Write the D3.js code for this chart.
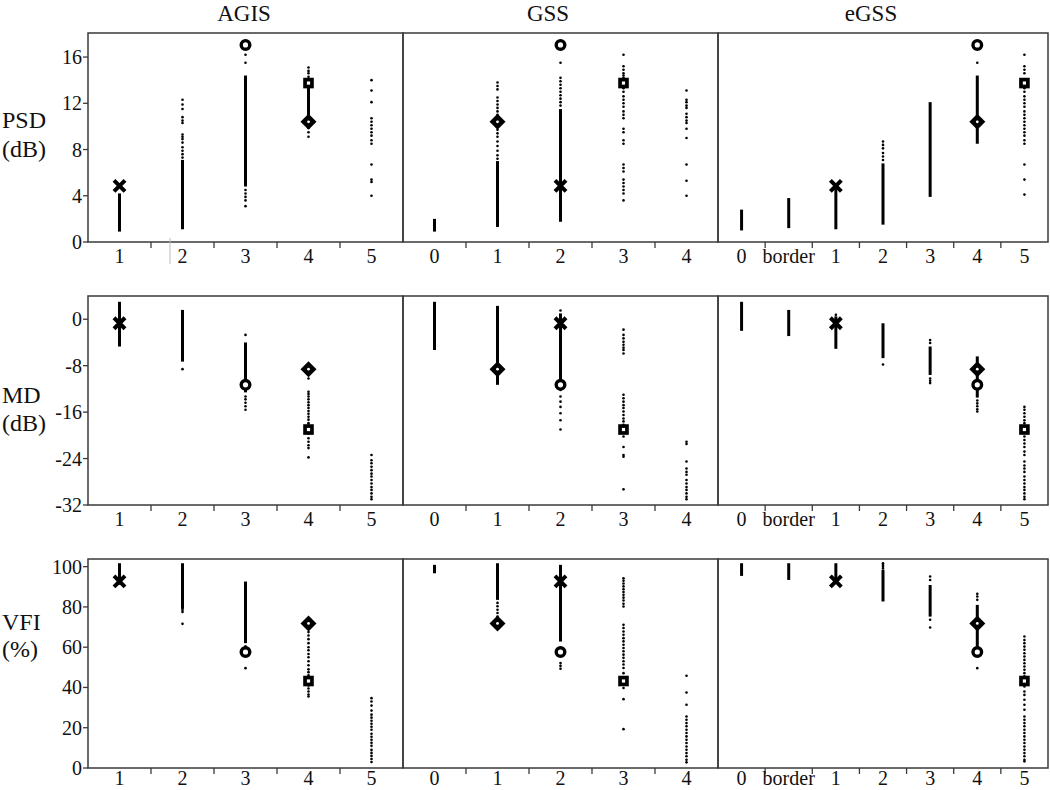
<!DOCTYPE html>
<html>
<head>
<meta charset="utf-8">
<script src="https://cdn.jsdelivr.net/npm/d3@7"></script>
<style>
  html, body { margin: 0; padding: 0; background: #fff; }
  svg { display: block; }
  text { font-family: "Liberation Serif", "Times New Roman", serif; fill: #111; }
</style>
</head>
<body>
<svg id="chart" width="1050" height="790"></svg>
<script>
// ---------------- DATA ----------------
const panelNames = ["AGIS", "GSS", "eGSS"];
const rowNames = ["PSD", "MD", "VFI"];
const rowUnits = ["(dB)", "(dB)", "(%)"];

const agisCats = ["1", "2", "3", "4", "5"];
const gssCats = ["0", "1", "2", "3", "4"];
const egssCats = ["0", "border", "1", "2", "3", "4", "5"];

const psdTicks = [0, 4, 8, 12, 16];
const mdTicks = [-32, -24, -16, -8, 0];
const vfiTicks = [0, 20, 40, 60, 80, 100];

// dense (continuous-looking) runs of points: [category, low, high]
const psdAgisSegs = [["1", 0.9, 4.2], ["2", 1.1, 7.1], ["3", 4.8, 14.4], ["4", 9.8, 13.6]];
const psdGssSegs = [["0", 0.9, 2.0], ["1", 1.3, 7.0], ["2", 1.75, 11.5]];
const psdEgssSegs = [["0", 1.0, 2.8], ["border", 1.2, 3.8], ["1", 1.1, 4.6], ["2", 1.5, 6.8], ["3", 3.9, 12.1], ["4", 8.5, 14.4]];
const mdAgisSegs = [["1", -4.7, 3.0], ["2", -7.3, 1.6], ["3", -12.6, -4.0]];
const mdGssSegs = [["0", -5.3, 3.0], ["1", -11.3, 2.3], ["2", -11.3, 1.0]];
const mdEgssSegs = [["0", -2.0, 3.0], ["border", -2.9, 1.6], ["1", -5.1, 0.5], ["2", -6.7, -0.7], ["3", -9.6, -4.7], ["4", -13.5, -6.4]];
const vfiAgisSegs = [["1", 91, 101.7], ["2", 79, 101.7], ["3", 62, 92.6]];
const vfiGssSegs = [["0", 96.7, 100.9], ["1", 83.5, 101.7], ["2", 62.8, 100.9]];
const vfiEgssSegs = [["0", 95.4, 101.7], ["border", 93.4, 101.7], ["1", 93, 101.7], ["2", 82.7, 98.4], ["3", 75.2, 90.9], ["4", 57.5, 81]];

// individual (sparse) points: [category, [values]]
const psdAgisDots = [
  ["2", [12.3, 11.9, 11.5, 10.8, 10.5, 10.3, 9.3, 9.1, 8.9, 8.6, 8.2, 7.9, 7.6, 7.3]],
  ["3", [16.2, 15.5, 4.5, 4.2, 3.9, 3.6, 3.1]],
  ["4", [15.1, 14.8, 14.6, 14.3, 14.1, 9.5, 9.1]],
  ["5", [14.0, 13.1, 12.1, 10.7, 10.4, 10.1, 9.8, 9.5, 9.2, 8.8, 8.5, 6.7, 5.4, 5.2, 4.0]]
];
const psdGssDots = [
  ["1", [13.8, 13.5, 13.2, 12.5, 12.2, 11.9, 11.6, 11.3, 11.0, 10.7, 10.0, 9.7, 9.4, 9.1, 8.7, 8.3, 7.9, 7.5, 7.2]],
  ["2", [15.5, 14.2, 13.9, 13.6, 13.3, 13.0, 12.7, 12.4, 12.1, 11.8]],
  ["3", [16.2, 15.2, 14.9, 14.6, 14.4, 14.2, 13.3, 13.0, 12.6, 12.3, 12.0, 11.7, 11.3, 11.0, 10.7, 9.8, 9.5, 8.8, 8.5, 6.7, 6.4, 6.1, 5.4, 5.1, 4.8, 4.5, 4.2, 3.6]],
  ["4", [13.1, 12.3, 12.1, 11.8, 11.6, 11.1, 10.8, 10.5, 10.3, 9.8, 9.0, 6.7, 5.3, 4.0]]
];
const psdEgssDots = [
  ["2", [8.7, 8.4, 8.1, 7.7, 7.4, 7.1]],
  ["4", [15.5]],
  ["5", [16.2, 15.2, 14.9, 14.6, 13.3, 13.0, 12.6, 12.3, 12.0, 11.7, 11.3, 11.0, 10.7, 10.4, 10.1, 9.8, 9.5, 9.2, 8.8, 8.5, 6.7, 5.4, 4.1]]
];
const mdAgisDots = [
  ["2", [-8.6]],
  ["3", [-2.7, -13.3, -13.8, -14.4, -15.0, -15.6]],
  ["4", [-9.3, -10.2, -12.5, -12.9, -13.3, -13.8, -14.3, -14.8, -15.3, -15.8, -16.3, -16.8, -17.3, -17.9, -18.3, -19.7, -20.5, -21.1, -21.7, -22.2, -23.8]],
  ["5", [-23.4, -24.3, -24.8, -25.4, -26.0, -26.6, -27.1, -27.7, -28.3, -28.9, -29.4, -30.0, -30.6, -31.0]]
];
const mdGssDots = [
  ["2", [1.5, -12.2, -13.3, -14.2, -15.1, -16.2, -17.4, -19.0]],
  ["3", [-1.8, -2.7, -3.3, -3.9, -4.4, -4.9, -5.3, -5.9, -13.0, -13.6, -14.2, -14.8, -15.3, -15.9, -16.5, -17.1, -17.6, -18.2, -20.2, -22.0, -23.4, -23.7, -29.3]],
  ["4", [-21.1, -21.5, -24.5, -25.7, -26.3, -26.8, -27.7, -28.3, -28.9, -29.4, -30.0, -30.6, -31.0]]
];
const mdEgssDots = [
  ["1", [0.75]],
  ["2", [-7.8]],
  ["3", [-3.6, -4.1, -10.2, -10.6, -11.0]],
  ["4", [-14.0, -14.5, -15.0, -15.5, -15.9]],
  ["5", [-15.1, -15.6, -16.2, -16.8, -17.4, -17.9, -18.4, -19.6, -20.2, -20.8, -21.4, -22.0, -22.8, -23.4, -24.5, -25.2, -25.7, -26.3, -27.1, -27.7, -28.3, -28.9, -29.4, -30.0, -30.6, -31.0]]
];
const vfiAgisDots = [
  ["2", [78.5, 77.5, 71.6]],
  ["3", [60.5, 49.6]],
  ["4", [69.4, 67.5, 65.8, 64, 62, 60, 58.5, 56.6, 55, 53, 51, 49, 47.6, 46, 41, 39.5, 38, 36.5, 35.5]],
  ["5", [34.7, 33, 31, 28.5, 26.5, 25, 23.5, 22, 20.5, 19, 17, 15.5, 14, 12.5, 11, 9, 7.5, 6, 4.5, 3]]
];
const vfiGssDots = [
  ["1", [82, 80.3, 78.6, 77, 75.2]],
  ["2", [52.1, 50.7, 49.3]],
  ["3", [94.2, 93, 91.6, 90.2, 88.8, 87.4, 86, 84.6, 83.2, 81.6, 80.2, 71.1, 69.5, 67.8, 66.2, 64.5, 62.9, 61.2, 59.6, 58, 56.3, 54.7, 53, 51.4, 49.7, 47.1, 39.7, 34.2, 19.3]],
  ["4", [45.8, 37.5, 31.4, 25.6, 24, 22.3, 20.7, 19, 17.4, 15.7, 14, 12.4, 10.7, 9.1, 7.4, 5.8, 4.1, 2.8]]
];
const vfiEgssDots = [
  ["2", [101.7, 100.8, 99.9, 99.1]],
  ["3", [95.1, 93.4, 73.6, 69.8]],
  ["4", [86.5, 85.2, 83.5, 49.6]],
  ["5", [65.3, 63.6, 62, 60.3, 58.7, 57, 55.4, 53.7, 52, 50.4, 48.8, 47.1, 45.5, 40.5, 38, 36.3, 33.9, 31.4, 28.9, 25.6, 24, 22.3, 20.7, 19, 17.4, 15.7, 14, 12.4, 10.7, 9.1, 7.4, 5.8, 4.1, 3.3]]
];

// highlighted example cases
const markerShapes = ["cross", "circle", "square", "diamond"];
const markerPSD = [4.85, 17.05, 13.75, 10.4];
const markerMD = [-0.7, -11.3, -19.0, -8.6];
const markerVFI = [92.7, 57.6, 43.2, 71.8];
const markerCatAgis = ["1", "3", "4", "4"];
const markerCatGss = ["2", "2", "3", "1"];
const markerCatEgss = ["1", "4", "5", "4"];

// ---------------- LAYOUT ----------------
const svg = d3.select("#chart");
svg.append("rect").attr("width", 1050).attr("height", 790).attr("fill", "#fff");

const panelX = [[88, 403], [403, 718], [718, 1048]];
const titleX = [244, 548, 871];
const rowY = [[33, 242], [296, 505], [559, 768]];
const rowDomains = [[0, 18.08], [-32, 4.0], [0, 103.8]];
const rowTicks = [psdTicks, mdTicks, vfiTicks];
const rowLabelBase = [[128, 157], [403, 431], [630, 657]];
const panelCats = [agisCats, gssCats, egssCats];

const segs = [
  [psdAgisSegs, psdGssSegs, psdEgssSegs],
  [mdAgisSegs, mdGssSegs, mdEgssSegs],
  [vfiAgisSegs, vfiGssSegs, vfiEgssSegs]
];
const dots = [
  [psdAgisDots, psdGssDots, psdEgssDots],
  [mdAgisDots, mdGssDots, mdEgssDots],
  [vfiAgisDots, vfiGssDots, vfiEgssDots]
];
const markerVals = [markerPSD, markerMD, markerVFI];
const markerCats = [markerCatAgis, markerCatGss, markerCatEgss];

const xScales = panelCats.map((cats, p) =>
  d3.scaleBand().domain(cats).range(panelX[p]).paddingInner(0).paddingOuter(0));
const yScales = rowDomains.map((dom, r) =>
  d3.scaleLinear().domain(dom).range([rowY[r][1], rowY[r][0]]));

// titles
panelNames.forEach((name, p) => {
  svg.append("text").attr("x", titleX[p]).attr("y", 21)
    .attr("text-anchor", "middle").attr("font-size", 23).text(name);
});

// row labels
rowNames.forEach((name, r) => {
  svg.append("text").attr("x", 2).attr("y", rowLabelBase[r][0])
    .attr("font-size", 24).text(name);
  svg.append("text").attr("x", 2).attr("y", rowLabelBase[r][1])
    .attr("font-size", 24).text(rowUnits[r]);
});

function drawMarker(g, shape, cx, cy) {
  if (shape === "cross") {
    const s = 5.5;
    g.append("path")
      .attr("d", `M${cx - s},${cy - s}L${cx + s},${cy + s}M${cx - s},${cy + s}L${cx + s},${cy - s}`)
      .attr("stroke", "#000").attr("stroke-width", 4).attr("fill", "none");
  } else if (shape === "circle") {
    g.append("circle").attr("cx", cx).attr("cy", cy).attr("r", 4.3)
      .attr("fill", "#fff").attr("stroke", "#000").attr("stroke-width", 3.4);
  } else if (shape === "square") {
    g.append("rect").attr("x", cx - 5.3).attr("y", cy - 5.3).attr("width", 10.6).attr("height", 10.6)
      .attr("fill", "#000");
    g.append("rect").attr("x", cx - 1.6).attr("y", cy - 1.6).attr("width", 3.2).attr("height", 3.2)
      .attr("fill", "#fff");
  } else if (shape === "diamond") {
    const s = 8;
    g.append("path").attr("d", `M${cx},${cy - s}L${cx + s},${cy}L${cx},${cy + s}L${cx - s},${cy}Z`)
      .attr("fill", "#000");
    g.append("circle").attr("cx", cx).attr("cy", cy).attr("r", 1.4).attr("fill", "#fff");
  }
}

rowNames.forEach((rn, r) => {
  const y = yScales[r];
  panelNames.forEach((pn, p) => {
    const x = xScales[p];
    const bw = x.bandwidth();
    const cxOf = c => x(c) + bw / 2;
    const g = svg.append("g");

    // frame
    g.append("rect").attr("x", panelX[p][0]).attr("y", rowY[r][0])
      .attr("width", panelX[p][1] - panelX[p][0]).attr("height", rowY[r][1] - rowY[r][0])
      .attr("fill", "none").attr("stroke", "#3a3a3a").attr("stroke-width", 1.5);

    // x ticks at band boundaries
    const cats = panelCats[p];
    cats.slice(1).forEach(c => {
      g.append("line").attr("x1", x(c)).attr("x2", x(c))
        .attr("y1", rowY[r][1]).attr("y2", rowY[r][1] + 6)
        .attr("stroke", "#3a3a3a").attr("stroke-width", 1.3);
    });
    const labelY = Math.min(rowY[r][1] + 21, 785);
    cats.forEach(c => {
      g.append("text").attr("x", cxOf(c)).attr("y", labelY)
        .attr("text-anchor", "middle").attr("font-size", 20).text(c);
    });

    // y axis on left column
    if (p === 0) {
      rowTicks[r].forEach(t => {
        g.append("line").attr("x1", panelX[0][0] - 5).attr("x2", panelX[0][0])
          .attr("y1", y(t)).attr("y2", y(t)).attr("stroke", "#3a3a3a").attr("stroke-width", 1.3);
        g.append("text").attr("x", panelX[0][0] - 6).attr("y", y(t)).attr("dy", "0.35em")
          .attr("text-anchor", "end").attr("font-size", 20).text(t);
      });
    }

    // dense runs
    g.selectAll("line.seg").data(segs[r][p]).enter().append("line")
      .attr("class", "seg")
      .attr("x1", d => cxOf(d[0])).attr("x2", d => cxOf(d[0]))
      .attr("y1", d => y(d[1])).attr("y2", d => y(d[2]))
      .attr("stroke", "#000").attr("stroke-width", 3);

    // sparse points
    const pts = [];
    dots[r][p].forEach(([c, vals]) => vals.forEach(v => pts.push([c, v])));
    g.selectAll("circle.pt").data(pts).enter().append("circle")
      .attr("class", "pt")
      .attr("cx", d => cxOf(d[0])).attr("cy", d => y(d[1])).attr("r", 1.3)
      .attr("fill", "#000");

    // highlighted markers
    markerShapes.forEach((shape, i) => {
      drawMarker(g, shape, cxOf(markerCats[p][i]), y(markerVals[r][i]));
    });
  });
});

// faint scanning artefact under the first PSD axis
svg.append("line").attr("x1", 170).attr("x2", 170).attr("y1", 238).attr("y2", 264)
  .attr("stroke", "#bbb").attr("stroke-width", 1);
</script>
</body>
</html>
